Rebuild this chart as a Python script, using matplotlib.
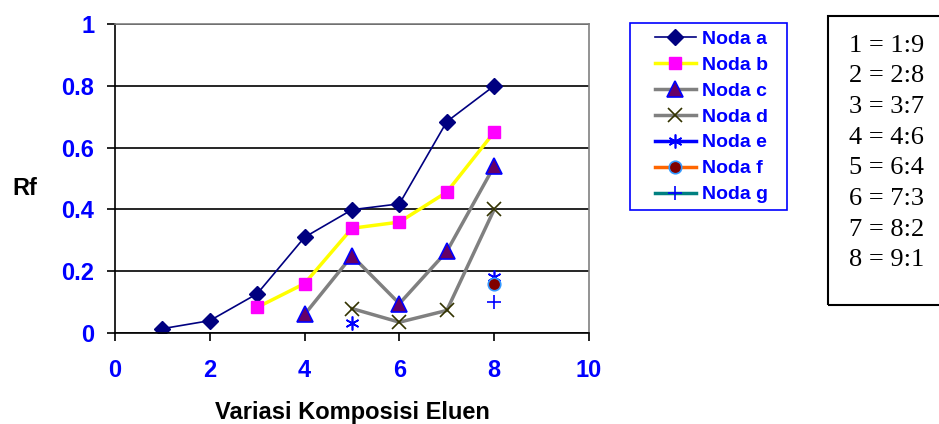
import matplotlib.pyplot as plt

# Rf values per spot (x = eluent composition index)
x_a = [1, 2, 3, 4, 5, 6, 7, 8]
rf_a = [0.014, 0.04, 0.127, 0.31, 0.399, 0.418, 0.684, 0.80]
x_b = [3, 4, 5, 6, 7, 8]
rf_b = [0.083, 0.16, 0.339, 0.359, 0.456, 0.65]
x_c = [4, 5, 6, 7, 8]
rf_c = [0.06, 0.25, 0.095, 0.264, 0.54]
x_d = [5, 6, 7, 8]
rf_d = [0.079, 0.035, 0.073, 0.40]
x_e = [5, 8]
rf_e = [0.032, 0.18]
x_f = [8]
rf_f = [0.16]
x_g = [8]
rf_g = [0.10]

komposisi = ["1 = 1:9", "2 = 2:8", "3 = 3:7", "4 = 4:6",
             "5 = 6:4", "6 = 7:3", "7 = 8:2", "8 = 9:1"]

plt.rcParams['font.family'] = ['Liberation Sans', 'DejaVu Sans']

W, H = 939, 424
fig = plt.figure(figsize=(W / 100, H / 100), dpi=100)
ax = fig.add_axes([115 / W, 1 - 333 / H, 474 / W, 309 / H])

ax.plot(x_a, rf_a, color='#000080', lw=1.2, marker='D', ms=8,
        mfc='#000080', mec='#000080', label='Noda a')
ax.plot(x_b, rf_b, color='#ffff00', lw=2.5, marker='s', ms=9,
        mfc='#ff00ff', mec='#ff00ff', label='Noda b')
ax.plot(x_c, rf_c, color='#808080', lw=2.5, marker='^', ms=12,
        mfc='#660066', mec='#0000ff', mew=1.2, label='Noda c')
ax.plot(x_d, rf_d, color='#808080', lw=2.5, marker='x', ms=10,
        mec='#333300', mew=1.2, label='Noda d')
ax.plot(x_e, rf_e, color='#0000ff', lw=2.5, ls='none', marker=(6, 2, 0), ms=10,
        mec='#0000ff', mew=1.2, label='Noda e')
ax.plot(x_f, rf_f, color='#ff6600', lw=2.5, ls='none', marker='o', ms=9,
        mfc='#800000', mec='#3399ff', mew=1.2, label='Noda f')
ax.plot(x_g, rf_g, color='#008080', lw=2.5, ls='none', marker='+', ms=10,
        mec='#0000ff', mew=1.2, label='Noda g')

ax.set_xlim(0, 10)
ax.set_ylim(0, 1)
ax.set_xticks([0, 2, 4, 6, 8, 10])
ax.set_yticks([0, 0.2, 0.4, 0.6, 0.8, 1])
ax.set_yticklabels(['0', '0.2', '0.4', '0.6', '0.8', '1'])
ax.yaxis.grid(True, color='black', lw=1.2)
ax.set_axisbelow(True)
ax.tick_params(direction='out', length=6, width=1.2, colors='black',
               labelcolor='#0000ff', labelsize=17)
for lbl in ax.get_xticklabels() + ax.get_yticklabels():
    lbl.set_fontweight('bold')
ax.tick_params(axis='x', pad=13)
ax.tick_params(axis='y', pad=9)
for side in ['top', 'right']:
    ax.spines[side].set_color('#808080')
    ax.spines[side].set_linewidth(1.2)
for side in ['left', 'bottom']:
    ax.spines[side].set_color('black')
    ax.spines[side].set_linewidth(1.2)

fig.text(25 / W, 1 - 195 / H, 'Rf', fontsize=17, fontweight='bold',
         ha='center', va='baseline')
fig.text(352 / W, 1 - 419 / H, 'Variasi Komposisi Eluen', fontsize=17,
         fontweight='bold', ha='center', va='baseline')

# legend without its own frame, framed by a rectangle
leg = fig.legend(loc='upper left', bbox_to_anchor=(655 / W, 1 - 30 / H),
                 frameon=False, handlelength=2.1, handletextpad=0.3,
                 labelspacing=0.43, borderpad=0, borderaxespad=0,
                 prop={'weight': 'bold', 'size': 14})
for t in leg.get_texts():
    t.set_color('#0000ff')
for h in leg.legend_handles[4:]:
    h.set_linestyle('-')
fig.patches.append(plt.Rectangle((630 / W, 1 - 210 / H), 157 / W, 187 / H,
                                 transform=fig.transFigure, fill=False,
                                 ec='#0000ff', lw=1.2))

fig.patches.append(plt.Rectangle((828 / W, 1 - 305 / H), 0.2, 289 / H,
                                 transform=fig.transFigure, fill=False,
                                 ec='black', lw=1.5))
for i, s in enumerate(komposisi):
    fig.text(849 / W, 1 - (43 + 30.7 * i) / H, s, fontsize=19,
             family=['Liberation Serif', 'DejaVu Serif'], ha='left',
             va='center_baseline')

fig.savefig('out.png', dpi=100)
